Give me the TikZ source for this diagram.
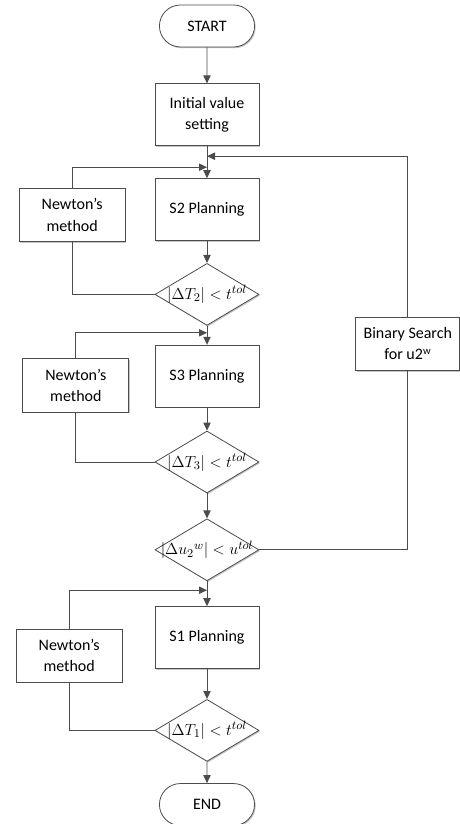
\documentclass[tikz,border=0pt]{standalone}
\usepackage{fontspec}
\setmainfont{Carlito}
\usetikzlibrary{arrows.meta, positioning, shapes.geometric, shapes.misc, shadows}

% condition text that does not widen its diamond
\newcommand{\cond}[1]{\makebox[0pt]{$#1$}}

\begin{document}
\begin{tikzpicture}[node distance=20pt, every node/.style={align=center},
    line/.style={draw=black!70, line width=0.6pt},
    arrow/.style={line, -{Triangle[length=6pt, width=5.5pt]}},
    shade/.style={drop shadow={shadow xshift=0.9pt, shadow yshift=-0.9pt, fill=black!22, opacity=1}},
    terminal/.style={rounded rectangle, draw=black!70, line width=0.6pt, fill=white, shade, minimum width=78pt, minimum height=31.5pt, font=\fontsize{12}{16}\selectfont},
    process/.style={rectangle, draw=black!70, line width=0.6pt, fill=white, shade, minimum width=78pt, minimum height=46.5pt, font=\fontsize{12}{16}\selectfont},
    helper/.style={rectangle, draw=black!70, line width=0.6pt, fill=white, shade, minimum width=79.5pt, minimum height=40pt, font=\fontsize{12}{16}\selectfont},
    decision/.style={diamond, aspect=1.68, draw=black!70, line width=0.6pt, fill=white, shade, inner sep=0pt, minimum width=78pt, minimum height=46.5pt, font=\fontsize{12.5}{15}\selectfont}]
				\useasboundingbox (-155.25pt,19.5pt) rectangle ++(345pt,-618pt);
				
				% Main column
				\node (start) [terminal] {START};
				\node (init) [process, below=27pt of start] {Initial value\\setting};
				\node (s2) [process, below=24pt of init] {S2 Planning};
				\node (d2) [decision, below=16.5pt of s2] {\cond{\left|\Delta T_2\right| < t^{tol}}};
				\node (s3) [process, below=14.25pt of d2] {S3 Planning};
				\node (d3) [decision, below=17.25pt of s3] {\cond{\left|\Delta T_3\right| < t^{tol}}};
				\node (du) [decision, below=18.75pt of d3] {\cond{\left|\Delta {u_2}^{w}\right| < u^{tol}}};
				\node (s1) [process, below=18.75pt of du] {S1 Planning};
				\node (d1) [decision, below=22.5pt of s1] {\cond{\left|\Delta T_1\right| < t^{tol}}};
				\node (end) [terminal, below=16pt of d1] {END};
				
				% Side boxes
				\node (newton2) [helper, left=21.75pt of s2, yshift=-4pt] {Newton's\\method};
				\node (newton3) [helper, left=19pt of s3, yshift=-7pt] {Newton's\\method};
				\node (newton1) [helper, left=24pt of s1, yshift=-13.5pt] {Newton's\\method};
				\node (search) [helper, minimum width=78pt, right=72pt of s3, yshift=24.4pt] {Binary Search\\for u2\textsuperscript{w}};
				
				% Junctions
				\coordinate [below=7.5pt of init.south] (joinsearch);
				\coordinate [below=15.75pt of init.south] (join2);
				\coordinate [below=5.25pt of d2.south] (join3);
				\coordinate [below=6.75pt of du.south] (join1);
				
				% Arrows
				\draw[arrow] (start) -- (init);
				\draw[arrow] (init) -- (s2);
				\draw[arrow] (s2) -- (d2);
				\draw[arrow] (d2) -- (s3);
				\draw[arrow] (s3) -- (d3);
				\draw[arrow] (d3) -- (du);
				\draw[arrow] (du) -- (s1);
				\draw[arrow] (s1) -- (d1);
				\draw[arrow] (d1) -- (end);
				
				% Loops
				\draw[line] (d2.west) -| (newton2.south);
				\draw[arrow] (newton2.north) |- (join2);
				\draw[line] (d3.west) -| (newton3.south);
				\draw[arrow] (newton3.north) |- (join3);
				\draw[line] (d1.west) -| (newton1.south);
				\draw[arrow] (newton1.north) |- (join1);
				\draw[line] (du.east) -| (search.south);
				\draw[arrow] (search.north) |- (joinsearch);
\end{tikzpicture}
\end{document}
